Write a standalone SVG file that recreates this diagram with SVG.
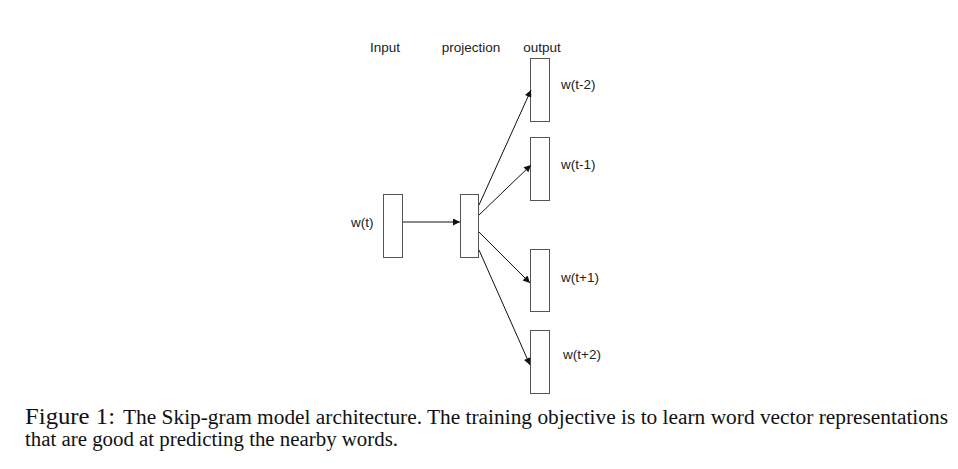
<svg xmlns="http://www.w3.org/2000/svg" width="958" height="469" viewBox="0 0 958 469">
<style>
.box{fill:#fff;stroke:#555;stroke-width:1}
.lbl{font-family:"Liberation Sans",Arial,sans-serif;font-size:13.5px;fill:#222}
.cap{font-family:"Liberation Serif","Times New Roman",serif;fill:#111}
.edge{stroke:#111;stroke-width:1;fill:none;marker-end:url(#ah)}
</style>
<defs>
<marker id="ah" viewBox="0 0 10 10" refX="10" refY="5" markerWidth="9" markerHeight="7" markerUnits="userSpaceOnUse" orient="auto">
<path d="M0,0 L10,5 L0,10 z" fill="#111"/>
</marker>
</defs>
<rect width="958" height="469" fill="#fff"/>
<g id="headers">
<text class="lbl" x="385" y="52" text-anchor="middle">Input</text>
<text class="lbl" x="471" y="52" text-anchor="middle">projection</text>
<text class="lbl" x="542" y="52" text-anchor="middle">output</text>
</g>
<g id="input">
<rect class="box" x="383.5" y="194.5" width="19" height="63"/>
<text class="lbl" x="351" y="227">w(t)</text>
</g>
<g id="projection">
<rect class="box" x="460.5" y="194.5" width="18" height="63"/>
</g>
<g id="out-t-2">
<rect class="box" x="530.5" y="58.5" width="19" height="63"/>
<text class="lbl" x="561" y="89">w(t-2)</text>
</g>
<g id="out-t-1">
<rect class="box" x="530.5" y="137.5" width="19" height="63"/>
<text class="lbl" x="561" y="169">w(t-1)</text>
</g>
<g id="out-t+1">
<rect class="box" x="530.5" y="249.5" width="19" height="62"/>
<text class="lbl" x="561" y="282">w(t+1)</text>
</g>
<g id="out-t+2">
<rect class="box" x="530.5" y="330.5" width="19" height="63"/>
<text class="lbl" x="563" y="359">w(t+2)</text>
</g>
<g id="connectors">
<line class="edge" x1="403" y1="222" x2="460" y2="222"/>
<line class="edge" x1="479" y1="205" x2="531" y2="90"/>
<line class="edge" x1="479" y1="215" x2="531" y2="165"/>
<line class="edge" x1="479" y1="232" x2="530" y2="283"/>
<line class="edge" x1="479" y1="250" x2="530" y2="365"/>
</g>
<g id="caption">
<text class="cap" x="25" y="424" font-size="24" textLength="90" lengthAdjust="spacingAndGlyphs">Figure 1:</text>
<text class="cap" x="123" y="424" font-size="20.5" textLength="825" lengthAdjust="spacingAndGlyphs">The Skip-gram model architecture.  The training objective is to learn word vector representations</text>
<text class="cap" x="25" y="446" font-size="20.5" textLength="373" lengthAdjust="spacingAndGlyphs">that are good at predicting the nearby words.</text>
</g>
</svg>
